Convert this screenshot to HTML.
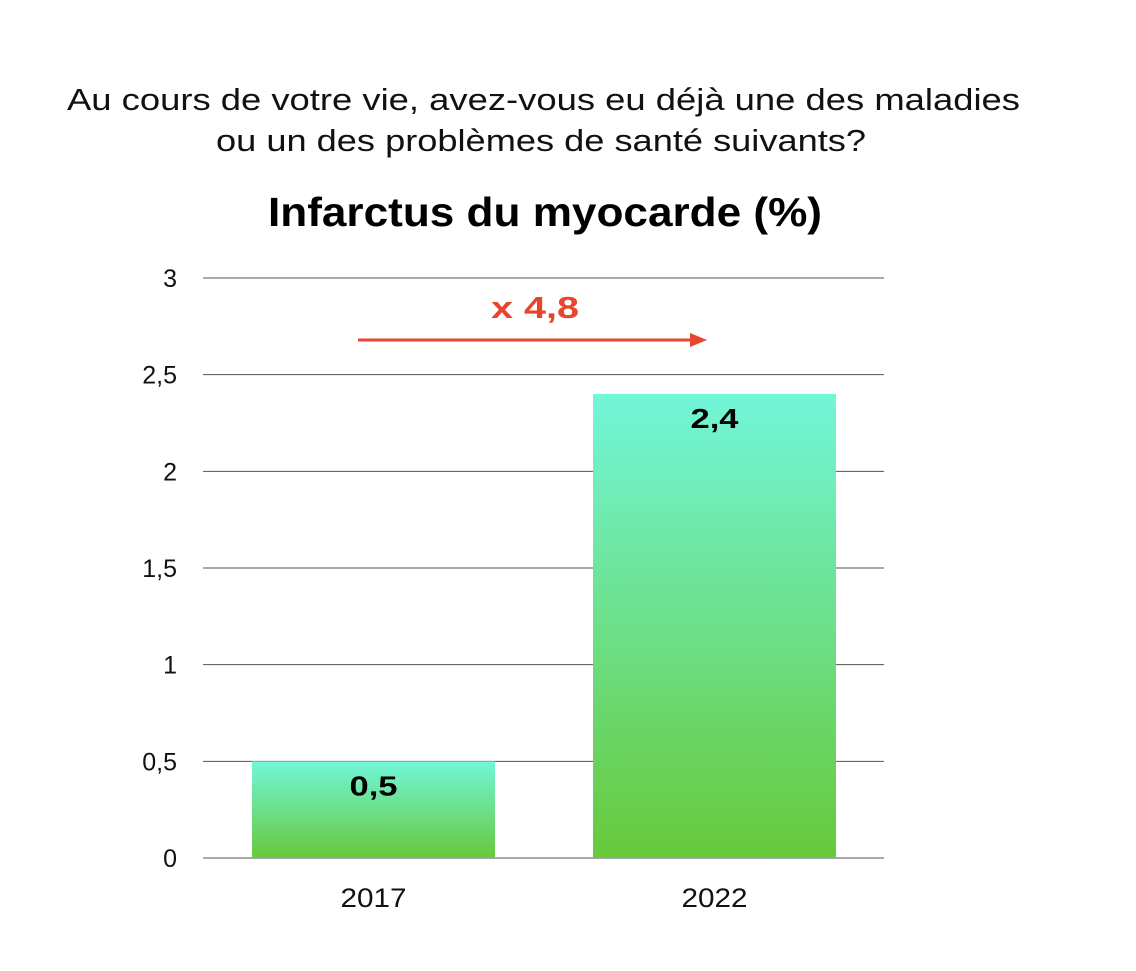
<!DOCTYPE html>
<html><head><meta charset="utf-8"><style>
body{margin:0;background:#fff;width:1136px;height:966px;overflow:hidden;font-family:"Liberation Sans",sans-serif}
</style></head><body>
<svg id="chart" width="1136" height="966" xmlns="http://www.w3.org/2000/svg" font-family="Liberation Sans, sans-serif">
<defs><linearGradient id="g" x1="0" y1="0" x2="0" y2="1"><stop offset="0" stop-color="#72f6d9"/><stop offset="1" stop-color="#67c93a"/></linearGradient></defs>
<text x="67" y="110" font-size="31" textLength="953" lengthAdjust="spacingAndGlyphs" fill="#111">Au cours de votre vie, avez-vous eu déjà une des maladies</text>
<text x="216" y="151" font-size="31" textLength="650" lengthAdjust="spacingAndGlyphs" fill="#111">ou un des problèmes de santé suivants?</text>
<text x="268" y="226" font-size="41" font-weight="bold" textLength="554" lengthAdjust="spacingAndGlyphs" fill="#000">Infarctus du myocarde (%)</text>
<g id="grid"></g><g id="bars"></g>
<text x="491" y="318" font-size="31" font-weight="bold" textLength="88" lengthAdjust="spacingAndGlyphs" fill="#e8452c">x 4,8</text>
<line x1="358" y1="340" x2="692" y2="340" stroke="#e8452c" stroke-width="3"/>
<polygon points="690,333 707,340 690,347" fill="#e8452c"/>
</svg>
<script>
const categories=["2017","2022"];
const values=[0.5,2.4];
const valueLabels=["0,5","2,4"];
const ticks=[0,0.5,1,1.5,2,2.5,3];
const tickLabels=["0","0,5","1","1,5","2","2,5","3"];
const ns="http://www.w3.org/2000/svg";
const y=v=>858-v*(580/3);
const x0=203,band=341;
const grid=document.getElementById('grid'),bars=document.getElementById('bars');
function mk(tag,attrs,parent,txt){const e=document.createElementNS(ns,tag);for(const k in attrs)e.setAttribute(k,attrs[k]);if(txt!==undefined)e.textContent=txt;parent.appendChild(e);return e;}
ticks.forEach((t,i)=>{
  const l=mk('line',{x1:203,x2:884,y1:y(t),y2:y(t),stroke:'#555','stroke-width':1},grid);
  
  
  const tx=mk('text',{x:177,y:y(t)+9,'font-size':25,'text-anchor':'end',fill:'#111'},grid,tickLabels[i]);
  
  
});
categories.forEach((c,i)=>{
  const cx=x0+band*i+band/2;
  const r=mk('rect',{x:cx-121.5,y:y(values[i]),width:243,height:y(0)-y(values[i]),fill:'url(#g)'},bars);
  
  
  const v=mk('text',{x:cx-24,y:y(values[i])+34,'font-size':28,'font-weight':'bold',textLength:48,lengthAdjust:'spacingAndGlyphs',fill:'#000'},bars,valueLabels[i]);
  
  
  const xl=mk('text',{x:cx-33,y:907,'font-size':27,textLength:66,lengthAdjust:'spacingAndGlyphs',fill:'#111'},bars,c);
  
  
});
</script>
</body></html>
